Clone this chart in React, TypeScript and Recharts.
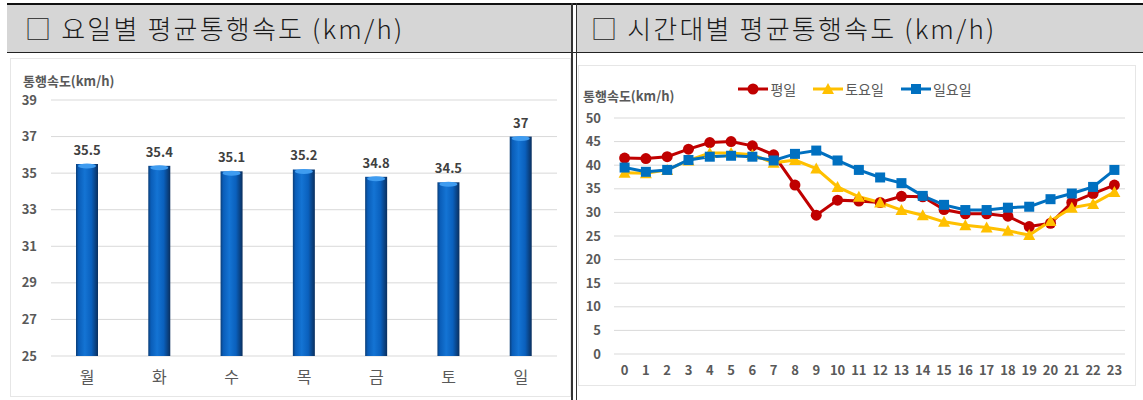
import React from "react";
import {
  BarChart,
  Bar,
  LineChart,
  Line,
  XAxis,
  YAxis,
  CartesianGrid,
  LabelList,
  Legend,
} from "recharts";

const days = ["월", "화", "수", "목", "금", "토", "일"];
const daySpeed = [35.5, 35.4, 35.1, 35.2, 34.8, 34.5, 37];
const dayTicks = [25, 27, 29, 31, 33, 35, 37, 39];

const hours = ["0", "1", "2", "3", "4", "5", "6", "7", "8", "9", "10", "11", "12", "13", "14", "15", "16", "17", "18", "19", "20", "21", "22", "23"];
const weekday = [41.5, 41.4, 41.8, 43.4, 44.8, 45.0, 44.1, 42.2, 35.8, 29.4, 32.6, 32.4, 32.1, 33.4, 33.3, 30.6, 29.7, 29.7, 29.2, 27.0, 27.7, 32.1, 34.0, 35.8];
const saturday = [38.4, 38.3, 39.0, 41.0, 42.6, 42.6, 42.2, 40.5, 41.1, 39.3, 35.4, 33.3, 32.1, 30.5, 29.4, 28.0, 27.3, 26.8, 26.1, 25.2, 28.2, 31.0, 31.8, 34.3];
const sunday = [39.5, 38.6, 39.0, 41.1, 41.8, 42.0, 41.8, 41.0, 42.4, 43.1, 41.0, 39.0, 37.4, 36.2, 33.5, 31.6, 30.5, 30.5, 31.0, 31.2, 32.8, 34.0, 35.4, 39.0];
const hourTicks = [0, 5, 10, 15, 20, 25, 30, 35, 40, 45, 50];

const dayData = days.map((d, i) => ({ day: d, speed: daySpeed[i] }));
const hourData = hours.map((h, i) => ({
  hour: h,
  weekday: weekday[i],
  saturday: saturday[i],
  sunday: sunday[i],
}));

const RED = "#c00000";
const YELLOW = "#ffc000";
const BLUE = "#0070c0";
const TEXT = "#595959";
const FONT = "'Noto Sans CJK KR', 'Noto Sans', sans-serif";

function Marker({ kind, cx, cy, color }: { kind: string; cx: number; cy: number; color: string }) {
  if (kind === "circle") return <circle cx={cx} cy={cy} r={5.5} fill={color} />;
  if (kind === "square") return <rect x={cx - 5} y={cy - 5} width={10} height={10} fill={color} />;
  return <polygon points={`${cx},${cy - 6} ${cx + 6},${cy + 5} ${cx - 6},${cy + 5}`} fill={color} />;
}

const seriesKeys = ["weekday", "saturday", "sunday"];
const seriesStyle: Record<string, { kind: string; color: string; name: string }> = {
  weekday: { kind: "circle", color: RED, name: "평일" },
  saturday: { kind: "triangle", color: YELLOW, name: "토요일" },
  sunday: { kind: "square", color: BLUE, name: "일요일" },
};

const makeDot = (key: string) => (p: any) => (
  <Marker key={`${key}-${p.index}`} kind={seriesStyle[key].kind} cx={p.cx} cy={p.cy} color={seriesStyle[key].color} />
);

function CylinderBar(p: any) {
  const { x, y, width, height } = p;
  return (
    <g>
      <rect x={x} y={y} width={width} height={height} fill="url(#barGrad)" />
      <ellipse cx={x + width / 2} cy={y + 2} rx={width / 2 - 2} ry={2.5} fill="#3f9cf0" />
    </g>
  );
}

function LegendContent(props: any) {
  const present = new Set((props.payload || []).map((e: any) => e.dataKey));
  return (
    <div style={{ display: "flex", justifyContent: "center", gap: 16, fontFamily: FONT, fontSize: 14, color: TEXT }}>
      {seriesKeys.filter((k) => present.has(k)).map((k) => {
        const s = seriesStyle[k];
        return (
          <div key={k} style={{ display: "flex", alignItems: "center" }}>
            <svg width={32} height={14}>
              <line x1={1} y1={7} x2={31} y2={7} stroke={s.color} strokeWidth={3} />
              <Marker kind={s.kind} cx={16} cy={7} color={s.color} />
            </svg>
            <span style={{ marginLeft: 1 }}>{s.name}</span>
          </div>
        );
      })}
    </div>
  );
}

const abs = (l: number, t: number, w: number, h: number, extra: React.CSSProperties = {}): React.CSSProperties => ({
  position: "absolute",
  left: l,
  top: t,
  width: w,
  height: h,
  ...extra,
});

const headerText: React.CSSProperties = {
  fontFamily: FONT,
  fontSize: 26,
  fontWeight: 300,
  letterSpacing: 2.2,
  color: "#1a1a1a",
  lineHeight: "46px",
  whiteSpace: "pre",
};

export default function App() {
  return (
    <div style={{ position: "fixed", left: 0, top: 0, width: 1143, height: 400, background: "#fff", overflow: "hidden" }}>
      {/* table header */}
      <div style={abs(7, 5, 564, 47, { background: "#d6d6d6" })}>
        <div style={{ ...headerText, paddingLeft: 18 }}>□ 요일별 평균통행속도 (km/h)</div>
      </div>
      <div style={abs(577, 5, 566, 47, { background: "#d6d6d6" })}>
        <div style={{ ...headerText, paddingLeft: 14 }}>□ 시간대별 평균통행속도 (km/h)</div>
      </div>
      <div style={abs(7, 3, 1136, 2, { background: "#111" })} />
      <div style={abs(7, 52, 1136, 1, { background: "#222" })} />
      <div style={abs(571, 3, 2, 397, { background: "#333" })} />
      <div style={abs(576, 3, 1, 397, { background: "#333" })} />

      {/* left chart */}
      <div style={abs(10, 58, 561, 339, { border: "1px solid #e6e6e6", boxSizing: "border-box" })}>
        <div style={abs(12, 13, 140, 18, { fontFamily: FONT, fontSize: 13, fontWeight: 700, color: TEXT, lineHeight: "18px" })}>통행속도(km/h)</div>
        <BarChart width={561} height={339} data={dayData} margin={{ top: 41, right: 15, bottom: 12, left: 10 }} barSize={22}>
          <defs>
            <linearGradient id="barGrad" x1="0" y1="0" x2="1" y2="0">
              <stop offset="0%" stopColor="#0b3e78" />
              <stop offset="12%" stopColor="#0a5db8" />
              <stop offset="40%" stopColor="#1474d4" />
              <stop offset="70%" stopColor="#0a60bd" />
              <stop offset="100%" stopColor="#0a2f5e" />
            </linearGradient>
          </defs>
          <CartesianGrid vertical={false} stroke="#d9d9d9" />
          <XAxis
            dataKey="day"
            height={30}
            axisLine={false}
            tickLine={false}
            tick={{ fill: TEXT, fontSize: 16, fontFamily: FONT }}
            tickMargin={10}
          />
          <YAxis
            width={30}
            domain={[25, 39]}
            ticks={dayTicks}
            interval={0}
            axisLine={false}
            tickLine={false}
            tickMargin={8}
            tick={{ fill: TEXT, fontSize: 13, fontWeight: 700, fontFamily: FONT }}
          />
          <Bar dataKey="speed" shape={<CylinderBar />} isAnimationActive={false}>
            <LabelList dataKey="speed" position="top" offset={9} style={{ fill: "#404040", fontSize: 13, fontWeight: 700, fontFamily: FONT }} />
          </Bar>
        </BarChart>
      </div>

      {/* right chart */}
      <div style={abs(578, 65, 558, 321, { border: "1px solid #e6e6e6", boxSizing: "border-box" })}>
        <div style={abs(4, 21, 140, 18, { fontFamily: FONT, fontSize: 13, fontWeight: 700, color: TEXT, lineHeight: "18px" })}>통행속도(km/h)</div>
        <LineChart width={558} height={321} data={hourData} margin={{ top: 52, right: 12, bottom: 9, left: 5 }}>
          <CartesianGrid vertical={false} stroke="#d9d9d9" />
          <XAxis
            dataKey="hour"
            height={24}
            axisLine={false}
            tickLine={false}
            interval={0}
            padding={{ left: 10.6, right: 10.6 }}
            tickMargin={6}
            tick={{ fill: TEXT, fontSize: 13, fontWeight: 700, fontFamily: FONT }}
          />
          <YAxis
            width={30}
            domain={[0, 50]}
            ticks={hourTicks}
            interval={0}
            axisLine={false}
            tickLine={false}
            tickMargin={7}
            tick={{ fill: TEXT, fontSize: 13, fontWeight: 700, fontFamily: FONT }}
          />
          <Legend verticalAlign="middle" align="center" wrapperStyle={{ top: 13 }} content={<LegendContent />} />
          <Line dataKey="weekday" name="평일" stroke={RED} strokeWidth={3} dot={makeDot("weekday")} isAnimationActive={false} />
          <Line dataKey="saturday" name="토요일" stroke={YELLOW} strokeWidth={3} dot={makeDot("saturday")} isAnimationActive={false} />
          <Line dataKey="sunday" name="일요일" stroke={BLUE} strokeWidth={3} dot={makeDot("sunday")} isAnimationActive={false} />
        </LineChart>
      </div>
    </div>
  );
}
